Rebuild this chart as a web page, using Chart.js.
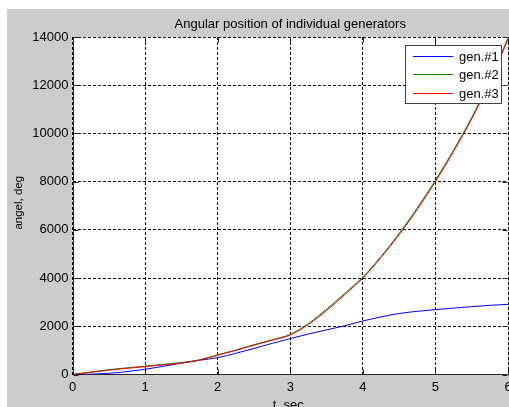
<!DOCTYPE html>
<html>
<head>
<meta charset="utf-8">
<script src="https://cdn.jsdelivr.net/npm/chart.js@4"></script>
<style>
  html, body { margin: 0; padding: 0; background: #ffffff; }
  #c { display: block; }
</style>
</head>
<body>
<canvas id="c" width="509" height="407"></canvas>
<script>
// ---- data ----
const titleText = "Angular position of individual generators";
const xLabel = "t, sec";
const yLabel = "angel, deg";
const seriesNames = ["gen.#1", "gen.#2", "gen.#3"];
const seriesColors = ["#0000ff", "#008000", "#ff0000"];
const tVals = [0, 0.25, 0.5, 0.75, 1, 1.25, 1.5, 1.75, 2, 2.25, 2.5, 2.75, 3, 3.25, 3.5, 3.75, 4, 4.25, 4.5, 4.75, 5, 5.25, 5.5, 5.75, 6];
const gen1 = [0, 15, 50, 120, 215, 340, 470, 590, 700, 880, 1080, 1290, 1490, 1680, 1850, 2020, 2220, 2390, 2530, 2620, 2690, 2755, 2815, 2870, 2910];
const gen2 = [0, 105, 200, 275, 345, 420, 495, 610, 815, 1015, 1235, 1440, 1660, 2110, 2710, 3360, 4040, 4890, 5850, 6910, 8060, 9310, 10660, 12210, 13960];
const gen3 = [0, 90, 180, 255, 325, 400, 475, 595, 800, 1000, 1220, 1420, 1640, 2080, 2650, 3310, 4000, 4850, 5800, 6850, 8000, 9250, 10600, 12150, 13900];
const xTicks = [0, 1, 2, 3, 4, 5, 6];
const yTicks = [0, 2000, 4000, 6000, 8000, 10000, 12000, 14000];

const FONT = "'Liberation Sans', Arial, sans-serif";
const allSeries = [gen1, gen2, gen3];

const datasets = allSeries.map((vals, i) => ({
  label: seriesNames[i],
  data: tVals.map((t, k) => ({ x: t, y: vals[k] })),
  borderColor: seriesColors[i],
  backgroundColor: seriesColors[i],
  borderWidth: 1,
  pointRadius: 0,
  fill: false,
  order: allSeries.length - i,
  cubicInterpolationMode: 'monotone'
}));

const figurePlugin = {
  id: 'figure',
  beforeDraw(chart) {
    const ctx = chart.ctx;
    const a = chart.chartArea;
    ctx.save();
    ctx.fillStyle = '#ffffff';
    ctx.fillRect(0, 0, chart.width, chart.height);
    ctx.fillStyle = '#cccccc';
    ctx.fillRect(7, 9, chart.width - 7, chart.height - 9);
    ctx.fillStyle = '#ffffff';
    ctx.fillRect(a.left, a.top, a.right - a.left, a.bottom - a.top);
    // title
    ctx.fillStyle = '#000000';
    ctx.font = '13px ' + FONT;
    ctx.textAlign = 'center';
    ctx.textBaseline = 'alphabetic';
    ctx.fillText(titleText, (a.left + a.right) / 2, 27.5);
    // x label
    ctx.fillText(xLabel, (a.left + a.right) / 2 - 2, 408.5);
    // y label
    ctx.save();
    ctx.translate(21.5, (a.top + a.bottom) / 2 - 3);
    ctx.rotate(-Math.PI / 2);
    ctx.font = '11.5px ' + FONT;
    ctx.textAlign = 'center';
    ctx.textBaseline = 'alphabetic';
    ctx.fillText(yLabel, 0, 0);
    ctx.restore();
    ctx.restore();
  },
  beforeDatasetsDraw(chart) {
    const ctx = chart.ctx;
    const a = chart.chartArea;
    const xs = chart.scales.x, ys = chart.scales.y;
    ctx.save();
    ctx.strokeStyle = '#262626';
    ctx.lineWidth = 1;
    ctx.setLineDash([]);
    const L = Math.round(a.left) + 0.5;
    const B = Math.round(a.bottom) - 0.5;
    const T = Math.round(a.top) + 0.5;
    const R = Math.round(a.right) - 0.5;
    ctx.beginPath();
    ctx.moveTo(L, T); ctx.lineTo(L, B); ctx.lineTo(R, B);
    ctx.stroke();
    // inward tick marks
    ctx.beginPath();
    xTicks.forEach(v => {
      const px = Math.round(xs.getPixelForValue(v)) + 0.5;
      ctx.moveTo(px, B); ctx.lineTo(px, B - 5);
      ctx.moveTo(px, T); ctx.lineTo(px, T + 5);
    });
    yTicks.forEach(v => {
      const py = Math.round(ys.getPixelForValue(v)) + 0.5;
      ctx.moveTo(L, py); ctx.lineTo(L + 5, py);
      ctx.moveTo(R, py); ctx.lineTo(R - 5, py);
    });
    ctx.stroke();
    ctx.restore();
  },
  afterDraw(chart) {
    const ctx = chart.ctx;
    ctx.save();
    const bx = 405.5, by = 45.5, bw = 96, bh = 58;
    ctx.fillStyle = '#ffffff';
    ctx.fillRect(bx, by, bw, bh);
    ctx.strokeStyle = '#404040';
    ctx.lineWidth = 1;
    ctx.strokeRect(bx, by, bw, bh);
    ctx.font = '13px ' + FONT;
    ctx.textAlign = 'left';
    ctx.textBaseline = 'middle';
    chart.data.datasets.forEach((ds, i) => {
      const y = 55.5 + i * 18.5;
      const yy = Math.round(y) + 0.5;
      ctx.strokeStyle = ds.borderColor;
      ctx.beginPath();
      ctx.moveTo(413, yy); ctx.lineTo(453, yy);
      ctx.stroke();
      ctx.fillStyle = '#000000';
      ctx.fillText(ds.label, 459, yy + 0.5);
    });
    ctx.restore();
  }
};

new Chart(document.getElementById('c'), {
  type: 'line',
  data: { datasets },
  plugins: [figurePlugin],
  options: {
    responsive: false,
    animation: false,
    devicePixelRatio: 1,
    layout: { padding: { top: 37, right: 1, bottom: 0, left: 0 } },
    plugins: {
      legend: { display: false },
      title: { display: false },
      tooltip: { enabled: false }
    },
    scales: {
      x: {
        type: 'linear',
        min: 0, max: 6,
        afterBuildTicks(scale) { scale.ticks = xTicks.map(v => ({ value: v })); },
        afterFit(scale) { scale.height = 32.5; scale.paddingLeft = 0; scale.paddingRight = 0; },
        ticks: {
          autoSkip: false, maxRotation: 0, padding: 5,
          color: '#000000',
          font: { family: FONT, size: 13 }
        },
        grid: { color: '#000000', lineWidth: 1, drawTicks: false },
        border: { display: false, dash: [3, 2] }
      },
      y: {
        type: 'linear',
        min: 0, max: 14000,
        afterBuildTicks(scale) { scale.ticks = yTicks.map(v => ({ value: v })); },
        afterFit(scale) { scale.width = 72.5; scale.paddingTop = 0; scale.paddingBottom = 0; },
        ticks: {
          autoSkip: false, padding: 4,
          color: '#000000',
          font: { family: FONT, size: 13 },
          callback: v => String(v)
        },
        grid: { color: '#000000', lineWidth: 1, drawTicks: false },
        border: { display: false, dash: [3, 2] }
      }
    }
  }
});
</script>
</body>
</html>
